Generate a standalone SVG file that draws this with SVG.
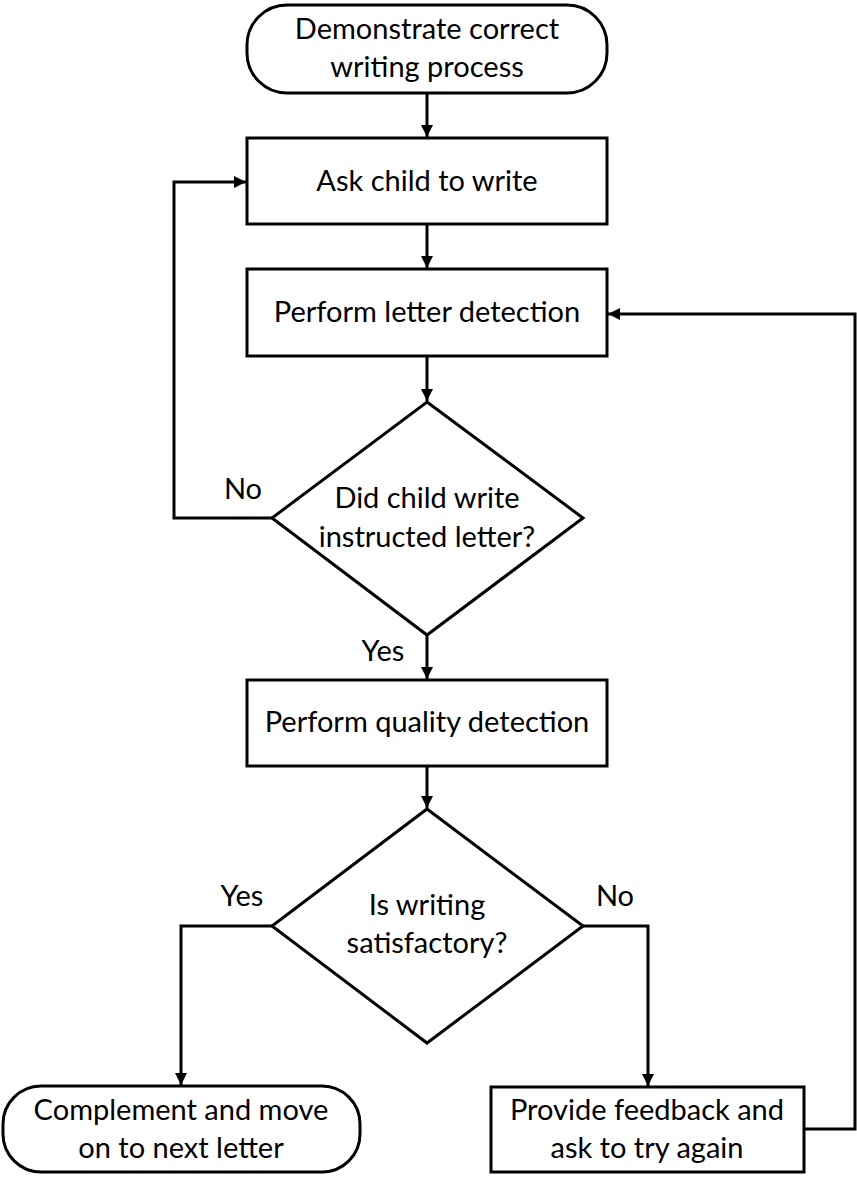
<svg xmlns="http://www.w3.org/2000/svg" width="857" height="1184" viewBox="0 0 857 1184">
<style>
.s{fill:#fff;stroke:#000;stroke-width:3}
.c{fill:none;stroke:#000;stroke-width:3}
text{font-family:Lato,"Open Sans","Liberation Sans",sans-serif;font-size:29px;fill:#000;text-anchor:middle}
</style>
<defs>
<marker id="a" viewBox="0 0 10 10" refX="10" refY="5" markerWidth="4" markerHeight="4" orient="auto" markerUnits="strokeWidth">
<path d="M0,0L10,5L0,10z" fill="#000"/>
</marker>
</defs>
<rect width="857" height="1184" fill="#fff"/>
<g id="connectors">
<line class="c" x1="427" y1="93" x2="427" y2="137" marker-end="url(#a)"/>
<line class="c" x1="427" y1="224" x2="427" y2="268" marker-end="url(#a)"/>
<line class="c" x1="427" y1="356" x2="427" y2="401" marker-end="url(#a)"/>
<polyline class="c" points="272,518 174,518 174,182 246,182" marker-end="url(#a)"/>
<line class="c" x1="427" y1="635" x2="427" y2="679" marker-end="url(#a)"/>
<line class="c" x1="427" y1="766" x2="427" y2="808" marker-end="url(#a)"/>
<polyline class="c" points="272,926 181,926 181,1085" marker-end="url(#a)"/>
<polyline class="c" points="583,926 648,926 648,1086" marker-end="url(#a)"/>
<polyline class="c" points="804,1129 855,1129 855,314 608,314" marker-end="url(#a)"/>
<text x="243" y="499">No</text>
<text x="383" y="661">Yes</text>
<text x="242" y="906">Yes</text>
<text x="615" y="906">No</text>
</g>
<g id="start">
<rect class="s" x="247" y="5" width="360" height="88" rx="40" ry="40"/>
<text x="427" y="39">Demonstrate correct</text>
<text x="427" y="77">writing process</text>
</g>
<g id="ask">
<rect class="s" x="247" y="138" width="360" height="86"/>
<text x="427" y="191">Ask child to write</text>
</g>
<g id="letterdet">
<rect class="s" x="247" y="269" width="360" height="87"/>
<text x="427" y="322">Perform letter detection</text>
</g>
<g id="dec1">
<polygon class="s" points="427,402 583,518 427,635 272,518"/>
<text x="427" y="508">Did child write</text>
<text x="427" y="547">instructed letter?</text>
</g>
<g id="qualdet">
<rect class="s" x="247" y="680" width="360" height="86"/>
<text x="427" y="732">Perform quality detection</text>
</g>
<g id="dec2">
<polygon class="s" points="427,809 583,926 427,1043 272,926"/>
<text x="427" y="915">Is writing</text>
<text x="427" y="953">satisfactory?</text>
</g>
<g id="complement">
<rect class="s" x="3" y="1086" width="357" height="86" rx="38" ry="38"/>
<text x="181" y="1120">Complement and move</text>
<text x="181" y="1158">on to next letter</text>
</g>
<g id="feedback">
<rect class="s" x="491" y="1087" width="313" height="85"/>
<text x="647" y="1120">Provide feedback and</text>
<text x="647" y="1158">ask to try again</text>
</g>
</svg>
